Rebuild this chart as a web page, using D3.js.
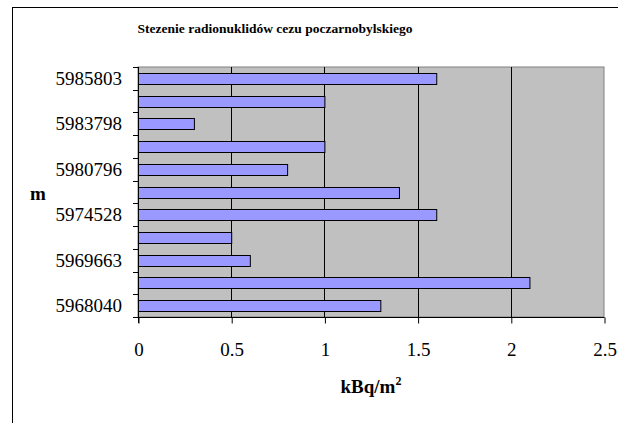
<!DOCTYPE html>
<html>
<head>
<meta charset="utf-8">
<script src="https://cdn.jsdelivr.net/npm/d3@7"></script>
<style>
  body { margin: 0; background: #fff; }
</style>
</head>
<body>
<script>
// categories top to bottom (only every second one is labelled in the original)
let categories = ["5985803", "", "5983798", "", "5980796", "", "5974528", "", "5969663", "", "5968040"];
let values = [1.6, 1.0, 0.3, 1.0, 0.8, 1.4, 1.6, 0.5, 0.6, 2.1, 1.3];
let xTicks = [0, 0.5, 1, 1.5, 2, 2.5];

let w = 618, h = 423;
let plotL = 138, plotR = 604, plotT = 67, plotB = 317;
let serif = "'Liberation Serif', 'Times New Roman', serif";

let svg = d3.select("body").append("svg")
    .attr("width", w)
    .attr("height", h);

// chart frame (only left and top edges visible)
svg.append("rect")
    .attr("x", 12.5).attr("y", 7.5)
    .attr("width", 700).attr("height", 500)
    .attr("fill", "#fff")
    .attr("stroke", "#000");

let xScale = d3.scaleLinear().domain([0, 2.5]).range([plotL, plotR]);
let yScale = d3.scaleBand().domain(d3.range(categories.length)).range([plotT, plotB]);

// plot area
svg.append("rect")
    .attr("x", plotL).attr("y", plotT)
    .attr("width", plotR - plotL).attr("height", plotB - plotT)
    .attr("fill", "#c0c0c0")
    .attr("stroke", "#808080");

// gridlines
svg.selectAll("line.grid")
    .data(xTicks.slice(1, -1))
    .enter().append("line")
    .attr("class", "grid")
    .attr("x1", d => Math.round(xScale(d)) + 0.5)
    .attr("x2", d => Math.round(xScale(d)) + 0.5)
    .attr("y1", plotT).attr("y2", plotB)
    .attr("stroke", "#000");

// bars
let barH = 11;
svg.selectAll("rect.bar")
    .data(values)
    .enter().append("rect")
    .attr("class", "bar")
    .attr("x", xScale(0) + 0.5)
    .attr("y", (d, i) => Math.round(yScale(i) + yScale.bandwidth() / 2 - barH / 2) + 0.5)
    .attr("width", d => xScale(d) - xScale(0))
    .attr("height", barH)
    .attr("fill", "#9999ff")
    .attr("stroke", "#000");

// x axis
let xAxis = d3.axisBottom(xScale)
    .tickValues(xTicks)
    .tickSize(6)
    .tickFormat(d3.format("~g"));
let gx = svg.append("g")
    .attr("transform", `translate(0.5,${plotB + 0.5})`)
    .call(xAxis);
gx.select(".domain").attr("stroke", "#000").attr("d", `M${plotL},0H${plotR}`);
gx.selectAll(".tick line").attr("stroke", "#000");
gx.selectAll(".tick text")
    .attr("y", 25)
    .style("font-family", serif)
    .style("font-size", "19px")
    .attr("fill", "#000");

// y axis: ticks on band boundaries
svg.append("line")
    .attr("x1", plotL + 0.5).attr("x2", plotL + 0.5)
    .attr("y1", plotT).attr("y2", plotB + 6)
    .attr("stroke", "#000");
svg.selectAll("line.ytick")
    .data(d3.range(categories.length + 1))
    .enter().append("line")
    .attr("class", "ytick")
    .attr("x1", plotL - 5).attr("x2", plotL)
    .attr("y1", i => Math.round(plotT + i * yScale.step()) + 0.5)
    .attr("y2", i => Math.round(plotT + i * yScale.step()) + 0.5)
    .attr("stroke", "#000");

svg.selectAll("text.ylab")
    .data(categories)
    .enter().append("text")
    .attr("class", "ylab")
    .attr("x", 122)
    .attr("y", (d, i) => yScale(i) + yScale.bandwidth() / 2)
    .attr("dy", "0.35em")
    .attr("text-anchor", "end")
    .style("font-family", serif)
    .style("font-size", "19px")
    .text(d => d);

// titles
svg.append("text")
    .attr("x", 275).attr("y", 33)
    .attr("text-anchor", "middle")
    .style("font-family", serif)
    .style("font-size", "13.5px")
    .style("font-weight", "bold")
    .text("Stezenie radionuklidów cezu poczarnobylskiego");

svg.append("text")
    .attr("x", 38).attr("y", 200)
    .attr("text-anchor", "middle")
    .style("font-family", serif)
    .style("font-size", "19px")
    .style("font-weight", "bold")
    .text("m");

let xt = svg.append("text")
    .attr("x", 371).attr("y", 393)
    .attr("text-anchor", "middle")
    .style("font-family", serif)
    .style("font-size", "19px")
    .style("font-weight", "bold");
xt.append("tspan").text("kBq/m");
xt.append("tspan").attr("dy", -8).style("font-size", "12px").text("2");
</script>
</body>
</html>
